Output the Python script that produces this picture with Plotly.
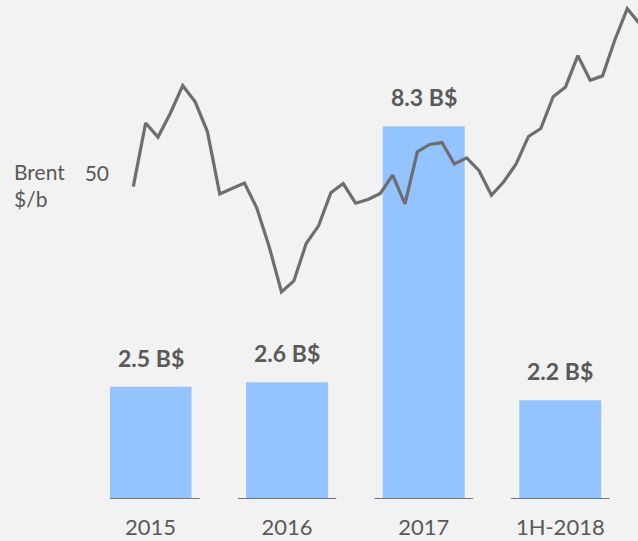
import plotly.graph_objects as go

# ---- data ----
categories = ["2015", "2016", "2017", "1H-2018"]
capex_bn = [2.5, 2.6, 8.3, 2.2]
bar_labels = [f"{v} B$" for v in capex_bn]

months = [f"{y}-{m:02d}" for y in (2015, 2016, 2017, 2018) for m in range(1, 13)][:42]
brent = [47.8, 58.2, 55.9, 59.8, 64.3, 61.7, 56.8, 46.6, 47.5, 48.4, 44.3, 38.0,
         30.6, 32.4, 38.5, 41.4, 46.8, 48.3, 45.1, 45.7, 46.7, 49.7, 45.0, 53.5,
         54.7, 55.0, 51.5, 52.5, 50.4, 46.4, 48.6, 51.5, 56.0, 57.3, 62.5, 64.1,
         69.2, 65.2, 65.9, 71.8, 76.9, 74.4]
brent_ticks = [50]
brent_title = "Brent<br>$/b"

# ---- styles ----
BG = "#f2f2f2"
BAR = "#94c4ff"
LINE = "#6e6e6e"
TXT = "#595959"
FONT = "Lato"

fig = go.Figure()
fig.add_trace(go.Bar(x=categories, y=capex_bn, marker=dict(color=BAR, line=dict(width=0)),
                     width=0.6, xaxis="x", yaxis="y", hoverinfo="skip"))
fig.add_trace(go.Scatter(x=months, y=brent, mode="lines",
                         line=dict(color=LINE, width=3.2),
                         xaxis="x2", yaxis="y2", hoverinfo="skip"))

for i, c in enumerate(categories):
    fig.add_shape(type="line", xref="x", yref="y", x0=i - 0.36, x1=i + 0.36, y0=0, y1=0,
                  line=dict(color="#767676", width=2.2))

annotations = [dict(x=i, y=v, xref="x", yref="y", text=f"<b>{t}</b>", showarrow=False,
                    yshift=29, yanchor="middle", font=dict(family=FONT, size=23, color=TXT))
               for i, (v, t) in enumerate(zip(capex_bn, bar_labels))]
annotations.append(dict(x=-0.185, y=0.629, xref="paper", yref="paper", text=brent_title,
                        showarrow=False, xanchor="left", yanchor="middle", align="left",
                        font=dict(family=FONT, size=21, color=TXT)))

fig.update_layout(
    width=638, height=541,
    margin=dict(l=110, r=0, t=0, b=42, autoexpand=False),
    paper_bgcolor=BG, plot_bgcolor="rgba(0,0,0,0)",
    showlegend=False,
    font=dict(family=FONT, color=TXT),
    xaxis=dict(type="category", range=[-0.2965, 3.569], showgrid=False, zeroline=False,
               showline=False, ticks="", ticklabelstandoff=13, automargin=False,
               tickfont=dict(family=FONT, size=22, color=TXT)),
    yaxis=dict(range=[0, 11.11], visible=False, fixedrange=True, automargin=False),
    xaxis2=dict(type="category", overlaying="x", range=[-1.887, 40.87], visible=False),
    yaxis2=dict(overlaying="y", side="left", range=[-3.24, 78.30], showgrid=False,
                zeroline=False, showline=False, ticks="", tickvals=brent_ticks,
                automargin=False, tickfont=dict(family=FONT, size=21, color=TXT)),
    annotations=annotations,
)

fig.write_html(
    "out.html",
    config={"displayModeBar": False, "staticPlot": True},
    post_script="document.body.style.margin='0';document.body.style.background='#f2f2f2';"
                "document.body.style.overflow='hidden';",
)
